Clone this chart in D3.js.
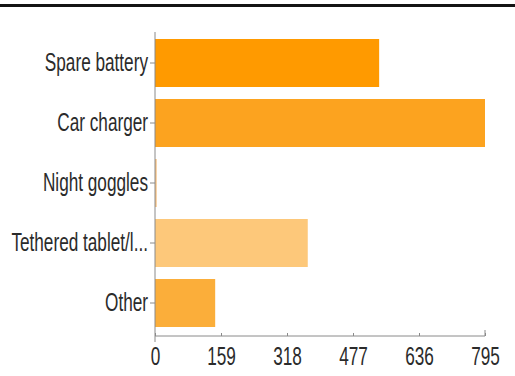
<!DOCTYPE html>
<html>
<head>
<meta charset="utf-8">
<script src="https://cdn.jsdelivr.net/npm/d3@7"></script>
<style>
  html, body { margin: 0; padding: 0; background: #fff; }
  svg { display: block; }
  .axis text { font-family: "Liberation Sans", Arial, sans-serif; fill: #2b2b2b; }
  .axis path, .axis line { stroke: #8a8a8a; }
</style>
</head>
<body>
<script>
// Survey answers: accessory owned
const categories = ["Spare battery", "Car charger", "Night goggles", "Tethered tablet/l...", "Other"];
const counts = [540, 795, 4, 368, 145];
const barColors = ["#FF9A00", "#FCA31F", "#F8C07E", "#FDC87A", "#FBAE3A"];
const tickValues = [0, 159, 318, 477, 636, 795];

const W = 515, H = 376;
const svg = d3.select("body").append("svg").attr("width", W).attr("height", H);

// heavy rule along the top edge
svg.append("rect").attr("x", 0).attr("y", 4).attr("width", W).attr("height", 3).attr("fill", "#141414");

const x = d3.scaleLinear().domain([0, 795]).range([155, 485]);
const y = d3.scaleBand().domain(categories).range([33, 333]).paddingInner(0.2).paddingOuter(0.1);

svg.selectAll("rect.bar")
  .data(categories)
  .join("rect")
  .attr("class", "bar")
  .attr("x", x(0))
  .attr("y", d => y(d))
  .attr("width", (d, i) => Math.max(0, x(counts[i]) - x(0)))
  .attr("height", y.bandwidth())
  .attr("fill", (d, i) => barColors[i]);

// condensed, slightly tall lettering for tick labels
const labelScale = "scale(0.86,1.25)";

// category axis
const gy = svg.append("g").attr("class", "axis").attr("transform", "translate(155,0)")
  .call(d3.axisLeft(y).tickSize(5).tickSizeOuter(0));
gy.select(".domain").attr("d", "M0,32V342");
gy.selectAll(".tick text")
  .attr("x", null).attr("dy", null)
  .style("font-size", "20px")
  .attr("dominant-baseline", "central")
  .attr("transform", `translate(-7,0) ${labelScale}`);

// value axis
const gx = svg.append("g").attr("class", "axis").attr("transform", "translate(0,336)")
  .call(d3.axisBottom(x).tickValues(tickValues).tickFormat(d3.format("d")).tickSize(-3).tickSizeOuter(0));
gx.select(".domain").attr("d", "M155,0H485V-6");
gx.selectAll(".tick text")
  .attr("y", null).attr("dy", null)
  .style("font-size", "20px")
  .attr("dominant-baseline", "central")
  .attr("transform", `translate(0,21) ${labelScale}`);
</script>
</body>
</html>
